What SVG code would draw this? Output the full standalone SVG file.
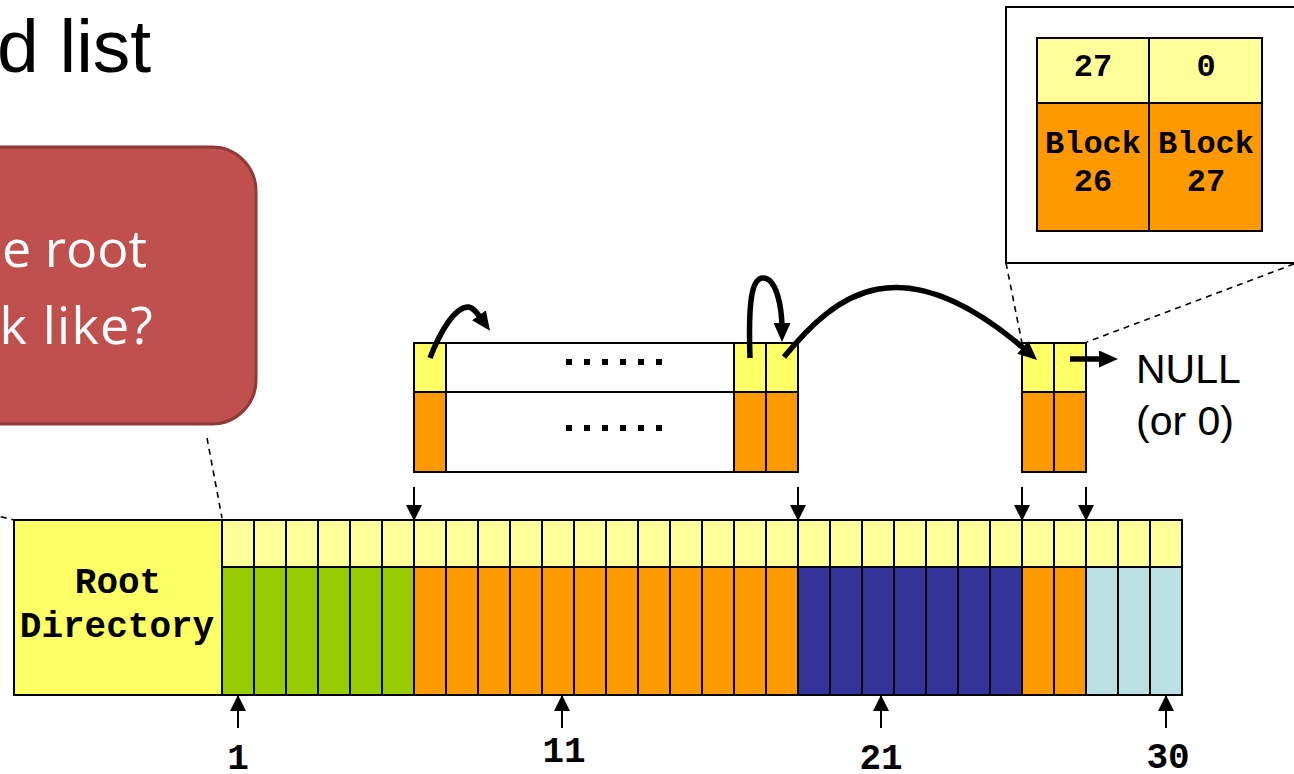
<svg xmlns="http://www.w3.org/2000/svg" width="1294" height="774" viewBox="0 0 1294 774">
  <defs>
    <style>
      .cell { stroke: #000; stroke-width: 2; }
      .grid { fill: none; stroke: #000; stroke-width: 2; }
      .mono { font-family: "Liberation Mono", "Courier New", monospace; font-weight: bold; fill: #000; }
      .sans { font-family: "Liberation Sans", Arial, sans-serif; fill: #000; }
      .callout-text { font-family: "Open Sans", "Noto Sans", sans-serif; font-size: 52px; fill: #fff; }
      .dash { fill: none; stroke: #000; stroke-width: 1.6; stroke-dasharray: 6 5; }
      .thin { fill: none; stroke: #000; stroke-width: 2; }
      .thick { fill: none; stroke: #000; stroke-width: 5.5; stroke-linecap: butt; }
      .dot { fill: #000; }
    </style>
    <marker id="headSmall" viewBox="0 0 16 16" refX="15" refY="8" markerWidth="16" markerHeight="16" markerUnits="userSpaceOnUse" orient="auto">
      <path d="M0,0 L16,8 L0,16 z" fill="#000"/>
    </marker>
    <marker id="headBig" viewBox="0 0 19 17" refX="7" refY="8.5" markerWidth="19" markerHeight="17" markerUnits="userSpaceOnUse" orient="auto">
      <path d="M0,0 L19,8.5 L0,17 z" fill="#000"/>
    </marker>
  </defs>

  <rect width="1294" height="774" fill="#fff"/>

  <!-- page title (runs off the left edge) -->
  <text class="sans" x="-3" y="72" font-size="75">d list</text>

  <!-- question callout -->
  <g id="callout">
    <rect x="-60" y="147" width="316" height="277" rx="44" ry="44" fill="#C0504D" stroke="#8E3A38" stroke-width="3"/>
    <text class="callout-text" x="147" y="267" text-anchor="end">e root</text>
    <text class="callout-text" x="154" y="344" text-anchor="end" letter-spacing="1.2">k like?</text>
  </g>

  <!-- zoomed-in table entries -->
  <g id="fat-detail">
    <rect x="1006" y="7" width="300" height="256" fill="#fff" stroke="#000" stroke-width="2"/>
    <rect x="1037" y="38" width="225" height="65" fill="#FFFF99" class="cell"/>
    <rect x="1037" y="103" width="225" height="128" fill="#FF9900" class="cell"/>
    <path class="grid" d="M1149,38V231"/>
    <text class="mono" font-size="32" text-anchor="middle" x="1093" y="76">27</text>
    <text class="mono" font-size="32" text-anchor="middle" x="1206" y="76">0</text>
    <text class="mono" font-size="32" text-anchor="middle" x="1093" y="153">Block</text>
    <text class="mono" font-size="32" text-anchor="middle" x="1093" y="191">26</text>
    <text class="mono" font-size="32" text-anchor="middle" x="1206" y="153">Block</text>
    <text class="mono" font-size="32" text-anchor="middle" x="1206" y="191">27</text>
  </g>

  <!-- file A: blocks 7..18 -->
  <g id="chain-a">
    <rect x="414" y="343" width="32" height="49" fill="#FFFF66" class="cell"/>
    <rect x="414" y="392" width="32" height="80" fill="#FF9900" class="cell"/>
    <rect x="446" y="343" width="288" height="49" fill="#fff" class="cell"/>
    <rect x="446" y="392" width="288" height="80" fill="#fff" class="cell"/>
    <rect x="734" y="343" width="32" height="49" fill="#FFFF66" class="cell"/>
    <rect x="734" y="392" width="32" height="80" fill="#FF9900" class="cell"/>
    <rect x="766" y="343" width="32" height="49" fill="#FFFF66" class="cell"/>
    <rect x="766" y="392" width="32" height="80" fill="#FF9900" class="cell"/>
    <rect class="dot" x="566" y="359" width="6" height="6"/>
    <rect class="dot" x="584" y="359" width="6" height="6"/>
    <rect class="dot" x="602" y="359" width="6" height="6"/>
    <rect class="dot" x="620" y="359" width="6" height="6"/>
    <rect class="dot" x="638" y="359" width="6" height="6"/>
    <rect class="dot" x="656" y="359" width="6" height="6"/>
    <rect class="dot" x="566" y="425" width="6" height="6"/>
    <rect class="dot" x="584" y="425" width="6" height="6"/>
    <rect class="dot" x="602" y="425" width="6" height="6"/>
    <rect class="dot" x="620" y="425" width="6" height="6"/>
    <rect class="dot" x="638" y="425" width="6" height="6"/>
    <rect class="dot" x="656" y="425" width="6" height="6"/>
  </g>

  <!-- file A tail: blocks 26, 27 -->
  <g id="chain-b">
    <rect x="1022" y="343" width="32" height="49" fill="#FFFF66" class="cell"/>
    <rect x="1022" y="392" width="32" height="80" fill="#FF9900" class="cell"/>
    <rect x="1054" y="343" width="32" height="49" fill="#FFFF66" class="cell"/>
    <rect x="1054" y="392" width="32" height="80" fill="#FF9900" class="cell"/>
  </g>

  <g id="null-label">
    <text class="sans" font-size="41" x="1136" y="383">NULL</text>
    <text class="sans" font-size="41" x="1136" y="435">(or 0)</text>
  </g>

  <!-- root directory -->
  <g id="root-directory">
    <rect x="14" y="520" width="208" height="175" fill="#FFFF66" class="cell"/>
    <text class="mono" font-size="36" text-anchor="middle" x="118" y="593">Root</text>
    <text class="mono" font-size="36" text-anchor="middle" x="117" y="637">Directory</text>
  </g>

  <!-- data blocks 1..30 -->
  <g id="disk-blocks">
    <rect x="222" y="520" width="960" height="47" fill="#FFFF99"/>
    <rect x="222" y="567" width="192" height="128" fill="#99CC00"/>
    <rect x="414" y="567" width="384" height="128" fill="#FF9900"/>
    <rect x="798" y="567" width="224" height="128" fill="#333399"/>
    <rect x="1022" y="567" width="64" height="128" fill="#FF9900"/>
    <rect x="1086" y="567" width="96" height="128" fill="#BBE0E3"/>
    <path class="grid" d="M222,567H1182 M254,520V695 M286,520V695 M318,520V695 M350,520V695 M382,520V695 M414,520V695 M446,520V695 M478,520V695 M510,520V695 M542,520V695 M574,520V695 M606,520V695 M638,520V695 M670,520V695 M702,520V695 M734,520V695 M766,520V695 M798,520V695 M830,520V695 M862,520V695 M894,520V695 M926,520V695 M958,520V695 M990,520V695 M1022,520V695 M1054,520V695 M1086,520V695 M1118,520V695 M1150,520V695"/>
    <rect x="222" y="520" width="960" height="175" class="grid"/>
  </g>

  <g id="block-numbers">
    <text class="mono" font-size="36" text-anchor="middle" x="238" y="769">1</text>
    <text class="mono" font-size="36" text-anchor="middle" x="564" y="762">11</text>
    <text class="mono" font-size="36" text-anchor="middle" x="881" y="769">21</text>
    <text class="mono" font-size="36" text-anchor="middle" x="1168" y="768">30</text>
  </g>

  <!-- connectors -->
  <g id="connectors">
    <!-- callout / detail leaders -->
    <path class="dash" d="M207,438 L222,518"/>
    <path class="dash" d="M-10,514 L14,520"/>
    <path class="dash" d="M1006,263 L1022,343"/>
    <path class="dash" d="M1294,264 L1087,342"/>

    <!-- markers above the blocks -->
    <path class="thin" marker-end="url(#headSmall)" d="M414,487 V520"/>
    <path class="thin" marker-end="url(#headSmall)" d="M798,487 V520"/>
    <path class="thin" marker-end="url(#headSmall)" d="M1022,487 V520"/>
    <path class="thin" marker-end="url(#headSmall)" d="M1086,487 V520"/>

    <!-- markers below the blocks -->
    <path class="thin" marker-end="url(#headSmall)" d="M238,728 V696"/>
    <path class="thin" marker-end="url(#headSmall)" d="M562,728 V696"/>
    <path class="thin" marker-end="url(#headSmall)" d="M881,728 V696"/>
    <path class="thin" marker-end="url(#headSmall)" d="M1166,728 V696"/>

    <!-- next-block links -->
    <path class="thick" marker-end="url(#headBig)" d="M430,358 C440,332 455,306 469,307 C474,308 478,314 483,321"/>
    <path class="thick" marker-end="url(#headBig)" d="M750,358 C748,300 752,278 763,278 C776,278 782,305 782,330"/>
    <path class="thick" marker-end="url(#headBig)" d="M784,357 C835,295 900,240 1028,352"/>
    <path class="thick" marker-end="url(#headBig)" d="M1070,359 H1106"/>
  </g>
</svg>
